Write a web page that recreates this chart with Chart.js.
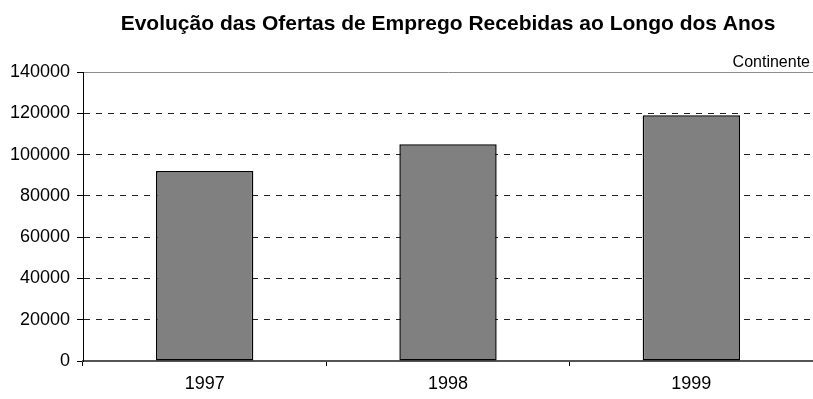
<!DOCTYPE html>
<html>
<head>
<meta charset="utf-8">
<script src="https://cdn.jsdelivr.net/npm/chart.js@4/dist/chart.umd.min.js"></script>
<style>
  html, body { margin: 0; padding: 0; background: #fff; }
  #wrap { width: 813px; height: 399px; }
</style>
</head>
<body>
<div id="wrap"><canvas id="mycanvas"></canvas></div>
<script>
var anos = ['1997', '1998', '1999'];
var ofertas = [92000, 105000, 119000];
var tituloTexto = 'Evolução das Ofertas de Emprego Recebidas ao Longo dos Anos';
var regiao = 'Continente';

var FONTE = '"Liberation Sans", Arial, sans-serif';

// titulo e nome da regiao, desenhados por cima do grafico
var textos = {
	id: 'textos',
	afterDraw: function(chart) {
		var ctx = chart.ctx;
		var area = chart.chartArea;
		ctx.save();
		ctx.fillStyle = '#000';
		ctx.font = 'bold 21px ' + FONTE;
		ctx.textAlign = 'center';
		ctx.textBaseline = 'alphabetic';
		ctx.fillText(tituloTexto, (area.left + area.right) / 2, 30);
		ctx.font = '16px ' + FONTE;
		ctx.textAlign = 'right';
		ctx.fillText(regiao, 810, 67);
		ctx.restore();
	}
};

var chartdata = {
	labels: anos,
	datasets: [{
		label: regiao,
		backgroundColor: '#808080',
		borderColor: '#000',
		borderWidth: 1.5,
		borderSkipped: false,
		categoryPercentage: 1,
		barPercentage: 0.4,
		data: ofertas
	}]
};

var ctx = document.getElementById('mycanvas');

var barGraph = new Chart(ctx, {
	type: 'bar',
	data: chartdata,
	plugins: [textos],
	options: {
		responsive: true,
		maintainAspectRatio: false,
		animation: false,
		layout: { padding: { top: 72, right: 0, left: 0, bottom: 0 } },
		plugins: {
			legend: { display: false },
			tooltip: { enabled: false },
			title: { display: false }
		},
		scales: {
			x: {
				afterFit: function(scale) { scale.height = 38; },
				grid: {
					offset: true,
					drawOnChartArea: false,
					drawTicks: true,
					tickLength: 5,
					tickColor: '#000'
				},
				border: { display: true, color: '#555', width: 2 },
				ticks: {
					color: '#000',
					padding: 7,
					font: { family: FONTE, size: 18 }
				}
			},
			y: {
				min: 0,
				max: 140000,
				afterFit: function(scale) { scale.width = 83; },
				grid: {
					drawTicks: true,
					tickLength: 6,
					tickColor: '#000',
					color: function(c) {
						if (!c.tick) return '#000';
						if (c.tick.value === 0) return 'rgba(0,0,0,0)';
						if (c.tick.value === 140000) return '#8c8c8c';
						return '#222';
					}
				},
				border: {
					display: true,
					color: '#000',
					width: 1,
					dash: function(c) {
						if (c.tick && c.tick.value > 0 && c.tick.value < 140000) return [6, 6];
						return [];
					}
				},
				ticks: {
					stepSize: 20000,
					color: '#000',
					padding: 7,
					font: { family: FONTE, size: 18 },
					callback: function(v) { return String(v); }
				}
			}
		}
	}
});
</script>
</body>
</html>
